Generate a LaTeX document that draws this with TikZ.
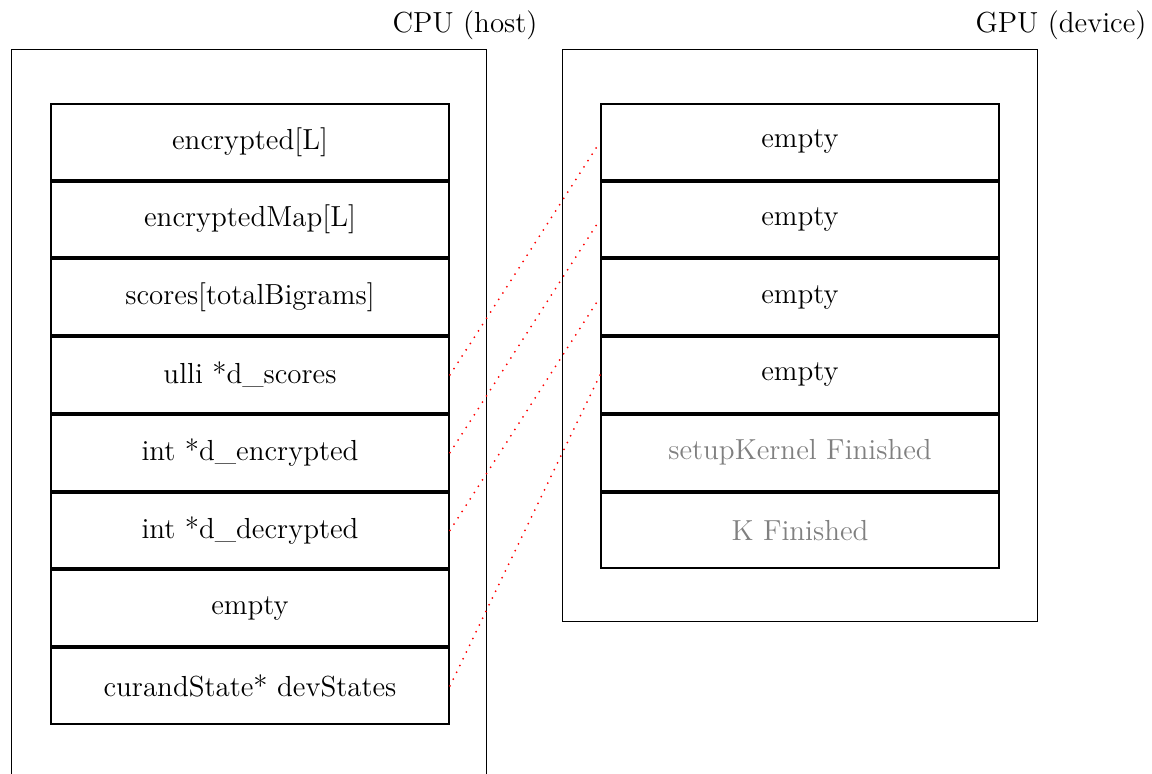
\documentclass[tikz,border=0pt]{standalone}
\begin{document}
\begin{tikzpicture}[x=0.4pt,y=-0.4pt,
  every node/.style={font=\fontsize{11.6}{14}\selectfont},
  cell/.style={draw, line width=0.8pt, minimum width=159.2pt, minimum height=30.3pt, anchor=north west, inner sep=0pt},
  dim/.style={text=gray},
  box/.style={draw, line width=0.4pt, anchor=north west, inner sep=0pt, minimum width=190pt},
  link/.style={red, line width=0.8pt, dash pattern=on 0pt off 3pt, line cap=round},
  title/.style={anchor=base east, inner sep=0pt}]
\useasboundingbox (0,0) rectangle (1152,773);
% containers
\node[box, minimum height=291.2pt] (cpubox) at (11,49) {};
\node[box, minimum height=228.8pt] (gpubox) at (562,49) {};
\node[title] (cpulabel) at (538,32) {CPU (host)};
\node[title] (gpulabel) at (1147,32) {GPU (device)};
% CPU cells
\node[cell] (c1) at (50,103)   {encrypted[L]};
\node[cell] (c2) at (50,180.7) {encryptedMap[L]};
\node[cell] (c3) at (50,258.4) {scores[totalBigrams]};
\node[cell] (c4) at (50,336.1) {ulli *d\_scores};
\node[cell] (c5) at (50,413.8) {int *d\_encrypted};
\node[cell] (c6) at (50,491.5) {int *d\_decrypted};
\node[cell] (c7) at (50,569.2) {empty};
\node[cell] (c8) at (50,646.9) {curandState* devStates};
% GPU cells
\node[cell] (g1) at (600,103)   {empty};
\node[cell] (g2) at (600,180.7) {empty};
\node[cell] (g3) at (600,258.4) {empty};
\node[cell] (g4) at (600,336.1) {empty};
\node[cell, dim] (g5) at (600,413.8) {setupKernel Finished};
\node[cell, dim] (g6) at (600,491.5) {K Finished};
% links
\draw[link] (c4.east) -- (g1.west);
\draw[link] (c5.east) -- (g2.west);
\draw[link] (c6.east) -- (g3.west);
\draw[link] (c8.east) -- (g4.west);
\end{tikzpicture}
\end{document}
